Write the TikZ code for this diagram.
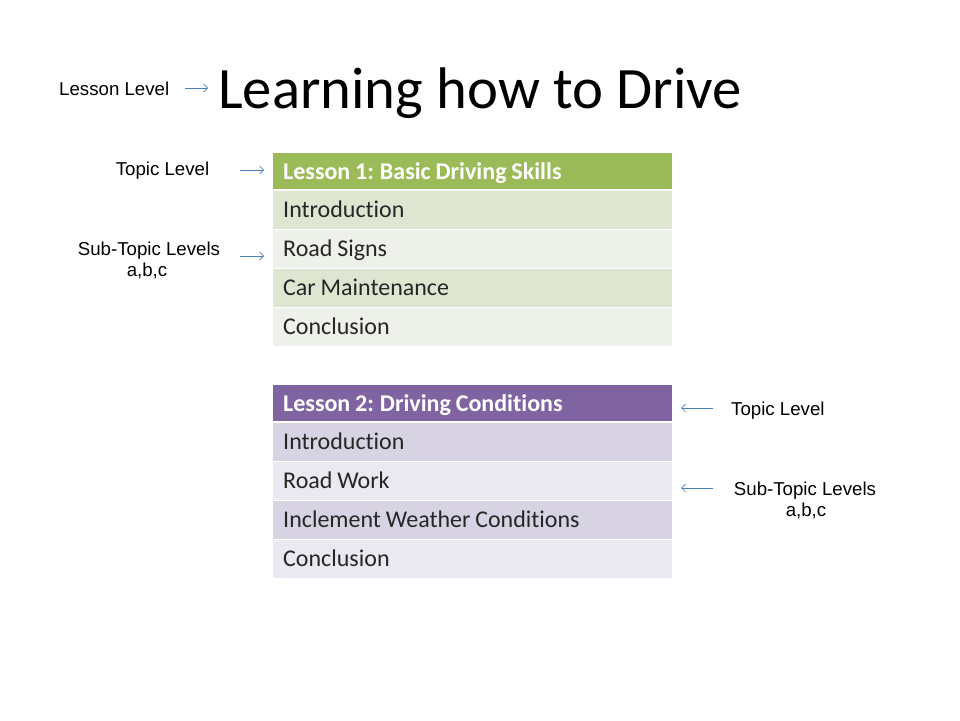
\documentclass[tikz,border=0pt]{standalone}
\usepackage{fontspec}
\setmainfont{Carlito}[Ligatures=NoCommon]
\newfontfamily\tablefont{Carlito}[Ligatures=NoCommon]
\newfontfamily\arialf{Liberation Sans}
\newcommand\tightspace{\spaceskip=0.2em\relax\xspaceskip=0.2em\relax}
\usetikzlibrary{arrows.meta}
\definecolor{ghead}{HTML}{9BBB59}
\definecolor{gdark}{HTML}{DEE6D1}
\definecolor{glight}{HTML}{EEF1EA}
\definecolor{phead}{HTML}{8064A2}
\definecolor{pdark}{HTML}{D7D3E2}
\definecolor{plight}{HTML}{EAE8F0}
\definecolor{arrowblue}{HTML}{4A7EBB}
\tikzset{
  lbl/.style={inner sep=0pt, font=\arialf\fontsize{18.67}{21}\selectfont, text=black},
  cellbase/.style={anchor=north west, inner xsep=10pt, inner ysep=0pt,
    text width=379pt, align=left, text height=16pt, text depth=0pt,
    font=\tablefont\fontsize{24}{28}\selectfont, execute at begin node=\tightspace},
  headcell/.style={cellbase, minimum height=35.6pt, text=white, font=\tablefont\bfseries\fontsize{24}{28}\selectfont},
  rowcell/.style={cellbase, minimum height=37.8pt, text=black!85},
  pointer/.style={draw=arrowblue, line width=0.7pt, -{Straight Barb[length=4pt,width=8pt]}},
}
\begin{document}
\begin{tikzpicture}[x=1pt,y=-1pt]
\useasboundingbox[fill=white] (0,0) rectangle (960,720);

% title
\node[inner sep=0pt, anchor=base west, font=\fontsize{58.67}{64}\selectfont] (title) at (218,108) {Learning how to Drive};
\node[lbl, anchor=base west] (lessonlvl) at (59,95) {Lesson Level};

% table 1
\node[headcell, fill=ghead] (t1h) at (273,153) {Lesson 1:\hspace{0.25em}Basic Driving Skills};
\node[rowcell, fill=gdark] (t1a) at (273,190.5) {Introduction};
\node[rowcell, fill=glight] (t1b) at (273,229.5) {Road Signs};
\node[rowcell, fill=gdark] (t1c) at (273,268.5) {Car Maintenance};
\node[rowcell, fill=glight] (t1d) at (273,307.5) {Conclusion};

% table 2
\node[headcell, fill=phead] (t2h) at (273,385) {Lesson 2:\hspace{0.25em}Driving Conditions};
\node[rowcell, fill=pdark] (t2a) at (273,422.8) {Introduction};
\node[rowcell, fill=plight] (t2b) at (273,461.8) {Road Work};
\node[rowcell, fill=pdark] (t2c) at (273,500.8) {Inclement Weather Conditions};
\node[rowcell, fill=plight] (t2d) at (273,539.8) {Conclusion};

% left labels
\node[lbl, anchor=base] (ltopic) at (162.5,175) {Topic Level};
\node[lbl, anchor=base] (lsub) at (149,255) {Sub-Topic Levels};
\node[lbl, anchor=base] (labc) at (147,276) {a,b,c};

% right labels
\node[lbl, anchor=base west] (rtopic) at (731,415) {Topic Level};
\node[lbl, anchor=base] (rsub) at (805,495) {Sub-Topic Levels};
\node[lbl, anchor=base] (rabc) at (806,516) {a,b,c};

% arrow end points
\coordinate (a0s) at (185,88);   \coordinate (a0e) at (208,88);
\coordinate (a1s) at (240,170);  \coordinate (a1e) at (264,170);
\coordinate (a2s) at (240,256);  \coordinate (a2e) at (264,256);
\coordinate (a3s) at (713,408);  \coordinate (a3e) at (681,408);
\coordinate (a4s) at (713,488);  \coordinate (a4e) at (681,488);

\draw[pointer] (a0s) -- (a0e);
\draw[pointer] (a1s) -- (a1e);
\draw[pointer] (a2s) -- (a2e);
\draw[pointer] (a3s) -- (a3e);
\draw[pointer] (a4s) -- (a4e);
\end{tikzpicture}
\end{document}
